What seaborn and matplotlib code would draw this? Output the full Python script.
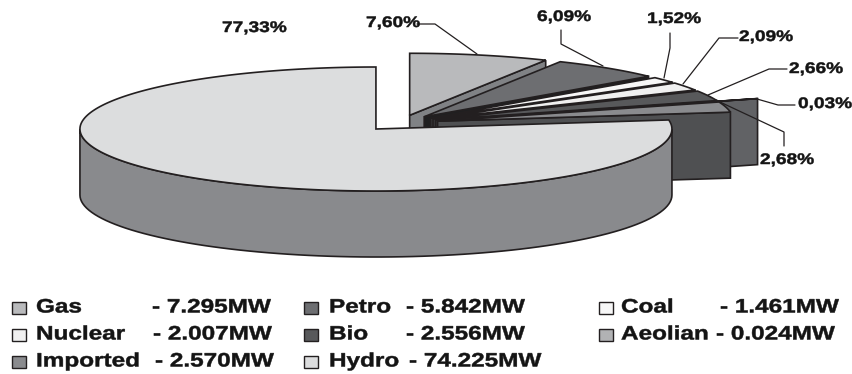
import numpy as np
import matplotlib
matplotlib.use("Agg")
import matplotlib.pyplot as plt
import seaborn as sns
from matplotlib.patches import Polygon, Rectangle
from matplotlib.patheffects import AbstractPathEffect
from matplotlib.transforms import Affine2D

sources = ["Gas", "Petro", "Coal", "Nuclear", "Bio", "Aeolian", "Imported", "Hydro"]
power_mw = ["7.295", "5.842", "1.461", "2.007", "2.556", "0.024", "2.570", "74.225"]
shares = [7.60, 6.09, 1.52, 2.09, 2.66, 0.03, 2.68, 77.33]
share_labels = ["7,60%", "6,09%", "1,52%", "2,09%", "2,66%", "0,03%", "2,68%", "77,33%"]
explode = [0.128, 0.128, 0.128, 0.128, 0.128, 0.268, 0.128, 0.128]
top_colors = ["#b9babc", "#6d6e71", "#f7f7f7", "#f0f0f0", "#58595b", "#b1b2b4", "#8a8b8e", "#dcddde"]
side_colors = ["#808285", "#1f1f20", "#3a3a3c", "#3a3a3c", "#3a3a3c", "#616265", "#4f5052", "#898a8d"]

# projected pie geometry, in output pixels
CX, CY, RX, RY, DEPTH = 400.7, 123.0, 296.0, 62.0, 66.0
EDGE = "#231f20"
INK = "#141414"


class WideText(AbstractPathEffect):
    """Widens and slightly thickens the glyph outlines of a left-anchored text."""

    def __init__(self, factor):
        super().__init__()
        self.factor = factor

    def draw_path(self, renderer, gc, tpath, affine, rgbFace=None):
        gc.set_linewidth(0.35)
        gc.set_foreground(rgbFace)
        renderer.draw_path(gc, tpath, Affine2D().scale(self.factor, 1) + affine, rgbFace)


sns.set_theme(style="white")
plt.rcParams["font.family"] = ["Liberation Sans", "DejaVu Sans"]

fig = plt.figure(figsize=(8.53, 3.74), dpi=100)
ax = fig.add_axes([0, 0, 1, 1])
ax.set_xlim(0, 853)
ax.set_ylim(374, 0)
ax.axis("off")


def rim(cx, cy, a0, a1, n=90):
    # angles run clockwise from twelve o'clock, in degrees
    t = np.radians(np.linspace(a0, a1, n))
    return np.column_stack([cx + RX * np.sin(t), cy - RY * np.cos(t)])


def wide_label(x, y, txt, size, factor):
    ax.text(x, y, txt, ha="left", va="center", fontsize=size, fontweight="bold",
            color=INK, zorder=60, path_effects=[WideText(factor)])


edges = np.concatenate([[0], np.cumsum(shares)]) * 3.6 * 100 / np.sum(shares)

for i in range(len(shares)):
    a0, a1 = edges[i], edges[i + 1]
    mid = np.radians((a0 + a1) / 2)
    cx = CX + explode[i] * RX * np.sin(mid)
    cy = CY - explode[i] * RY * np.cos(mid)
    apex = np.array([cx, cy])
    end = rim(cx, cy, a1, a1, 1)[0]
    # cut face on the clockwise end of the slice
    if a1 < 180:
        ax.add_patch(Polygon([apex, end, end + [0, DEPTH], apex + [0, DEPTH]],
                             closed=True, fc=side_colors[i], ec=EDGE, lw=1.2, zorder=i * 3 + 1))
    # outer wall where the rim faces the viewer
    lo, hi = max(a0, 90), min(a1, 270)
    if hi > lo:
        top = rim(cx, cy, lo, hi)
        wall = np.vstack([top, (top + [0, DEPTH])[::-1]])
        ax.add_patch(Polygon(wall, closed=True, fc=side_colors[i], ec=EDGE, lw=1.2, zorder=i * 3 + 2))
    face = np.vstack([apex, rim(cx, cy, a0, a1, 240)])
    ax.add_patch(Polygon(face, closed=True, fc=top_colors[i], ec=EDGE, lw=1.2, zorder=i * 3 + 3))

# value labels and their leader lines
label_xy = [(366, 23), (537, 17), (647, 19), (739, 37), (789, 69), (798, 104), (760, 160), (222, 28)]
leaders = [
    [(417, 24), (435, 24), (477, 54)],
    [(561, 30), (561, 44), (603, 66)],
    [(670, 33), (670, 48), (664, 78)],
    [(738, 38), (719, 38), (683, 84)],
    [(787, 69), (769, 69), (708, 95)],
    [(795, 105), (778, 105), (757, 99)],
    [(784, 146), (784, 132), (720, 102)],
]
for i, txt in enumerate(share_labels):
    wide_label(*label_xy[i], txt, 11, 1.25)
for pts in leaders:
    xs, ys = zip(*pts)
    ax.plot(xs, ys, color=EDGE, lw=0.9, zorder=50)

# legend: swatch, source name and installed power on three rows
swatch_x = [12, 304, 599]
name_x = [36, 329, 621]
power_x = [152, 406, 720, 153, 406, 716, 155, 409]
rows = [308, 335, 362]
for i, (name, mw) in enumerate(zip(sources, power_mw)):
    col, row = i % 3, i // 3
    y = rows[row]
    ax.add_patch(Rectangle((swatch_x[col], y - 6), 14, 12, fc=top_colors[i], ec=EDGE, lw=1.0))
    wide_label(name_x[col], y, name, 14, 1.25)
    wide_label(power_x[i], y, f"- {mw}MW", 14, 1.25)

fig.savefig("out.png", dpi=100, facecolor="white")
